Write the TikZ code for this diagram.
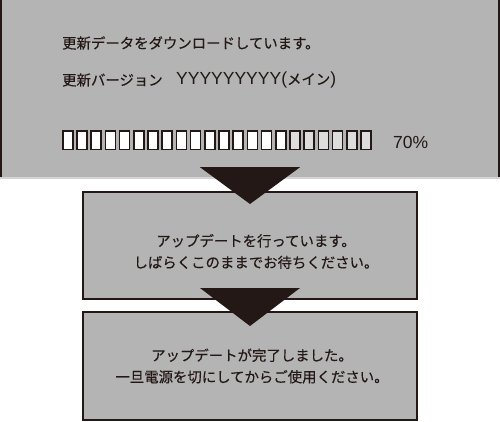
\documentclass[tikz,border=0pt]{standalone}
\usepackage{fontspec}
\setmainfont{Noto Sans CJK JP}[FakeBold=0.2]
\newfontfamily\latinfont{Liberation Sans}
\usepackage{tikz}
\usetikzlibrary{positioning}
\definecolor{panelGray}{RGB}{180,180,180}
\definecolor{cellGray}{RGB}{221,221,221}
\definecolor{edgeGray}{RGB}{212,212,212}
\definecolor{inkBlack}{RGB}{35,24,21}
\tikzstyle{panel}=[fill=panelGray,minimum width=500pt,minimum height=178pt,inner sep=0pt]
\tikzstyle{stepBox}=[draw=inkBlack,fill=panelGray,line width=2pt,minimum width=334pt,inner sep=0pt]
\tikzstyle{cell}=[draw=inkBlack,fill=white,line width=1.5pt,minimum width=10pt,minimum height=18.5pt,inner sep=0pt]
\tikzstyle{msgText}=[inner sep=0pt,align=center,font=\fontsize{14.4}{21.5}\selectfont,text=inkBlack]
\tikzstyle{flowArrow}=[fill=inkBlack]
\newcommand{\latinpart}[1]{{\latinfont\fontsize{17.5}{21.5}\selectfont #1}}

\begin{document}
\begin{tikzpicture}[x=1pt,y=-1pt]
	\useasboundingbox (0,0) rectangle (500,421);
	
	\node[panel] (download) at (250,89) {};
	\draw[inkBlack, line width=2pt] ([xshift=1pt]download.north west) -- ([xshift=1pt]download.south west);
	\draw[inkBlack, line width=2pt] ([xshift=-1pt]download.north east) -- ([xshift=-1pt]download.south east);
	\draw[edgeGray, line width=1.5pt] (download.south west) -- (download.south east);
	
	\node[msgText, anchor=west] (dlMsg) at (62,43) {更新データをダウンロードしています。};
	\node[msgText, anchor=west] (verLabel) at (62,80) {更新バージョン};
	\node[msgText, anchor=west] (verValue) at (176,80) {\latinpart{YYYYYYYYY(}メイン\latinpart{)}};
	
	\foreach \i in {0,...,21} {
		\node[cell] (cell\i) at (67.75+14.2*\i,140) {};
	}
	\foreach \i in {16,...,21} {
		\node[cell, fill=cellGray] at (cell\i) {};
	}
	\node[msgText, anchor=west] (percent) at (393,142) {\latinpart{70\%}};
	
	\node[stepBox, minimum height=107pt] (updating) at (250,245.5) {};
	\node[msgText] (updMsg) at (256,251.5) {アップデートを行っています。\\しばらくこのままでお待ちください。};
	
	\node[stepBox, minimum height=108pt] (done) at (250,366) {};
	\node[msgText] (doneMsg) at (252,366) {アップデートが完了しました。\\一旦電源を切にしてからご使用ください。};
	
	\fill[flowArrow] ([xshift=-50pt,yshift=11pt]download.south) -- ([xshift=50pt,yshift=11pt]download.south) -- ([yshift=-13pt]updating.north) -- cycle;
	\fill[flowArrow] ([xshift=-50pt,yshift=12pt]updating.south) -- ([xshift=50pt,yshift=12pt]updating.south) -- ([yshift=-15pt]done.north) -- cycle;
\end{tikzpicture}
\end{document}
